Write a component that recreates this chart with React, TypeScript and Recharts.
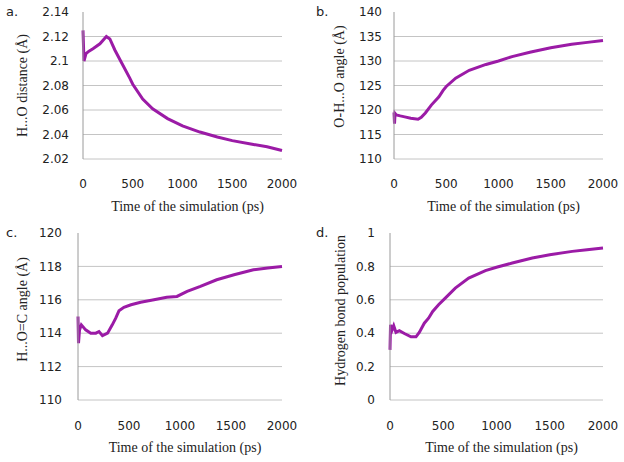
import React from 'react';
import { LineChart, Line, XAxis, YAxis, ReferenceLine } from 'recharts';

// time axis shared by all four panels (ps)
const xTicks = [0, 500, 1000, 1500, 2000];

// a. H...O distance
const timeA = [0, 10, 30, 60, 100, 170, 235, 270, 320, 385, 470, 500, 600, 700, 850, 1000, 1175, 1350, 1500, 1700, 1850, 2000];
const distanceA = [2.125, 2.1, 2.106, 2.108, 2.11, 2.114, 2.12, 2.118, 2.109, 2.099, 2.086, 2.081, 2.069, 2.061, 2.053, 2.047, 2.042, 2.038, 2.035, 2.032, 2.03, 2.027];
const ticksA = [2.02, 2.04, 2.06, 2.08, 2.1, 2.12, 2.14];

// b. O-H...O angle
const timeB = [0, 5, 10, 22, 60, 102, 160, 230, 261, 300, 357, 430, 470, 500, 590, 720, 880, 1000, 1130, 1300, 1500, 1700, 1850, 2000];
const angleB = [119.5, 117.2, 119.3, 119.0, 118.8, 118.6, 118.3, 118.1, 118.5, 119.4, 121.0, 122.7, 124.0, 124.8, 126.5, 128.1, 129.3, 130.0, 130.9, 131.8, 132.7, 133.4, 133.8, 134.2];
const ticksB = [110, 115, 120, 125, 130, 135, 140];

// c. H...O=C angle
const timeC = [0, 5, 15, 33, 75, 125, 175, 206, 240, 290, 336, 370, 402, 450, 520, 614, 745, 870, 970, 1070, 1200, 1360, 1530, 1720, 1860, 2000];
const angleC = [115.0, 113.4, 114.2, 114.5, 114.2, 114.0, 114.0, 114.1, 113.85, 114.0, 114.5, 114.9, 115.35, 115.55, 115.7, 115.85, 116.0, 116.15, 116.2, 116.5, 116.8, 117.2, 117.5, 117.8, 117.9, 118.0];
const ticksC = [110, 112, 114, 116, 118, 120];

// d. hydrogen bond population
const timeD = [0, 5, 20, 35, 56, 88, 135, 197, 244, 275, 322, 362, 401, 456, 519, 613, 739, 896, 1000, 1148, 1336, 1500, 1711, 1850, 2000];
const populationD = [0.3, 0.45, 0.42, 0.445, 0.405, 0.415, 0.398, 0.378, 0.378, 0.405, 0.46, 0.49, 0.53, 0.57, 0.61, 0.67, 0.73, 0.775, 0.795, 0.82, 0.85, 0.87, 0.89, 0.9, 0.91];
const ticksD = [0, 0.2, 0.4, 0.6, 0.8, 1];

const LINE = '#9b1ba6';
const GRID = '#c4c4c4';
const TICK_FONT = { fontFamily: 'DejaVu Sans', fontSize: 12, fill: '#222' };
const SERIF = 'Liberation Serif';

type PanelProps = {
  letter: string;
  left: number;
  top: number;
  times: number[];
  values: number[];
  yTicks: number[];
  yTitle: string;
  plotLeft: number;
  plotRight: number;
  plotTop: number;
  plotBottom: number;
  yTickGap: number;
  xTickGap: number;
  titleX: number;
  titleDy: number;
};

function Panel(p: PanelProps) {
  const data = p.times.map((t, i) => ({ t, v: p.values[i] }));
  const W = 312;
  const H = 231;
  return (
    <div style={{ position: 'absolute', left: p.left, top: p.top, width: W, height: H }}>
      <LineChart
        width={W}
        height={H}
        data={data}
        margin={{ top: p.plotTop, right: W - p.plotRight, left: 0, bottom: 0 }}
      >
        <XAxis
          type="number"
          dataKey="t"
          domain={[0, 2000]}
          ticks={xTicks}
          interval={0}
          axisLine={false}
          tickLine={false}
          tickMargin={p.xTickGap}
          height={H - p.plotBottom}
          tick={TICK_FONT}
          label={{
            content: (props: any) => {
              const vb = props.viewBox;
              return (
                <text
                  x={vb.x + vb.width / 2 + 5}
                  y={vb.y + 52}
                  textAnchor="middle"
                  fontFamily={SERIF}
                  fontSize={14}
                  fill="#222"
                >
                  Time of the simulation (ps)
                </text>
              );
            },
          }}
        />
        <YAxis
          type="number"
          domain={[p.yTicks[0], p.yTicks[p.yTicks.length - 1]]}
          ticks={p.yTicks}
          interval={0}
          width={p.plotLeft}
          tickLine={false}
          axisLine={{ stroke: '#9a9a9a' }}
          tickMargin={p.yTickGap}
          tick={TICK_FONT}
          tickFormatter={(v: number) => String(+v.toFixed(2))}
          label={{
            content: (props: any) => {
              const vb = props.viewBox;
              const cx = p.titleX;
              const cy = vb.y + vb.height / 2 + p.titleDy;
              return (
                <text
                  x={cx}
                  y={cy}
                  transform={`rotate(-90 ${cx} ${cy})`}
                  textAnchor="middle"
                  dominantBaseline="central"
                  fontFamily={SERIF}
                  fontSize={14}
                  fill="#222"
                >
                  {p.yTitle}
                </text>
              );
            },
          }}
        />
        {p.yTicks.slice(0, -1).map((y) => (
          <ReferenceLine key={y} y={y} stroke={GRID} strokeWidth={1} />
        ))}
        <Line
          type="linear"
          dataKey="v"
          stroke={LINE}
          strokeWidth={3}
          dot={false}
          isAnimationActive={false}
        />
      </LineChart>
      <div
        style={{
          position: 'absolute',
          left: p.letter === 'a.' || p.letter === 'c.' ? 6 : 4,
          top: p.letter === 'a.' || p.letter === 'b.' ? 4 : -6,
          fontFamily: 'DejaVu Sans',
          fontSize: 13,
          color: '#222',
        }}
      >
        {p.letter}
      </div>
    </div>
  );
}

export default function App() {
  return (
    <div style={{ position: 'absolute', left: 0, top: 0, width: 624, height: 462, background: '#fff' }}>
      <style>{'svg { overflow: visible; }'}</style>
      <Panel
        letter="a."
        left={0}
        top={0}
        times={timeA}
        values={distanceA}
        yTicks={ticksA}
        yTitle="H...O distance (Å)"
        plotLeft={83}
        plotRight={282}
        plotTop={12}
        plotBottom={159}
        yTickGap={8}
        xTickGap={14}
        titleX={22}
        titleDy={0}
      />
      <Panel
        letter="b."
        left={312}
        top={0}
        times={timeB}
        values={angleB}
        yTicks={ticksB}
        yTitle="O-H...O angle (Å)"
        plotLeft={82}
        plotRight={291}
        plotTop={12}
        plotBottom={159}
        yTickGap={6}
        xTickGap={14}
        titleX={27}
        titleDy={-9}
      />
      <Panel
        letter="c."
        left={0}
        top={231}
        times={timeC}
        values={angleC}
        yTicks={ticksC}
        yTitle="H...O=C angle (Å)"
        plotLeft={78}
        plotRight={282}
        plotTop={2}
        plotBottom={169}
        yTickGap={10}
        xTickGap={15}
        titleX={22}
        titleDy={-7}
      />
      <Panel
        letter="d."
        left={312}
        top={231}
        times={timeD}
        values={populationD}
        yTicks={ticksD}
        yTitle="Hydrogen bond population"
        plotLeft={78}
        plotRight={291}
        plotTop={2}
        plotBottom={169}
        yTickGap={9}
        xTickGap={15}
        titleX={28}
        titleDy={-6}
      />
    </div>
  );
}
